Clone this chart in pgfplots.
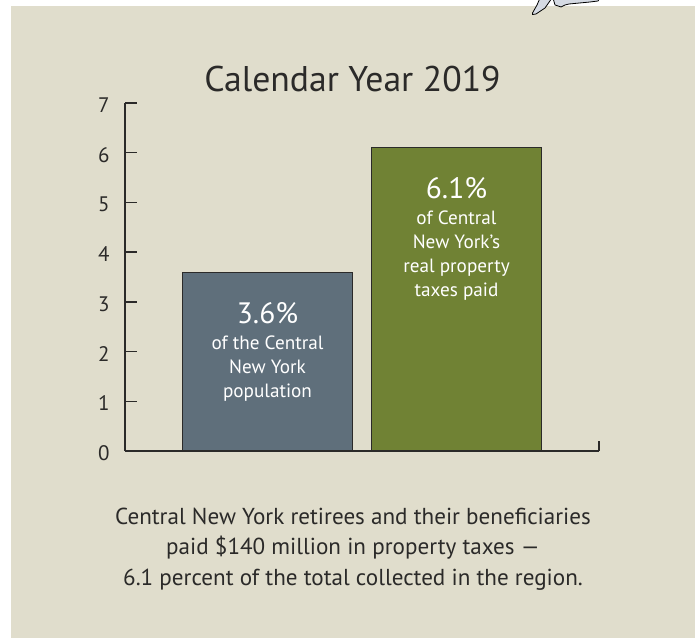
\documentclass[border=0pt]{standalone}
\usepackage{pgfplots}
\pgfplotsset{compat=1.18}
\usepackage{fontspec}
\setmainfont{PT Sans}
\definecolor{panel}{HTML}{E0DDCC}
\definecolor{slate}{HTML}{5F6F7B}
\definecolor{olive}{HTML}{708234}
\definecolor{ink}{HTML}{2B2A29}
\definecolor{mapfill}{HTML}{D5DAE3}
\begin{document}
\begin{tikzpicture}[x=1pt,y=1pt]
\useasboundingbox (0,0) rectangle (700,638);
\fill[white] (0,0) rectangle (700,638);
\fill[panel] (11,0) rectangle (695,632);
% map fragment at top
\begin{scope}
\clip (0,0) rectangle (700,638);
\filldraw[fill=mapfill,draw=black,line width=0.8pt,line join=round] (540,640) -- (537,633) -- (532.5,625) -- (532.5,623.5) -- (536,624) -- (545,630) -- (552,640) -- cycle;
\filldraw[fill=mapfill,draw=black,line width=0.8pt,line join=round] (553,640) -- (555,633) -- (561,631) -- (565,633) -- (569,634) -- (590,636) -- (598,637) -- (600,640) -- cycle;
\end{scope}
\begin{axis}[
  at={(125pt,187pt)},
  anchor=south west,
  width=474pt,height=348pt,scale only axis,
  xmin=-0.754,xmax=1.754,ymin=0,ymax=7,
  axis lines=left,
  axis line style={-,ink,line width=1.6pt},
  ytick={0,...,7},
  xtick=\empty,
  major tick length=12pt,
  tick align=inside,
  every tick/.style={ink,line width=1.4pt},
  tick label style={font=\fontsize{21}{24}\selectfont,text=ink},
  /pgf/number format/assume math mode=true,
  yticklabel style={xshift=-12pt,yshift=-2pt},
  clip=false,
  axis on top,
  ybar,bar shift=0pt,bar width=170.5pt,
]
\addplot[fill=slate,draw=ink,line width=0.8pt] coordinates {(0,3.6)};
\addplot[fill=olive,draw=ink,line width=0.8pt] coordinates {(1,6.1)};
\draw[ink,line width=1.6pt] (axis cs:1.754,0) -- (axis cs:1.754,0.2);
\node[white,font=\fontsize{29.5}{34}\selectfont,anchor=base] at (axis cs:0,2.56) {3.6\%};
\node[white,font=\fontsize{19.2}{24}\selectfont,align=center,anchor=north] at (axis cs:0,2.39) {of the Central\\New York\\population};
\node[white,font=\fontsize{29.5}{34}\selectfont,anchor=base] at (axis cs:1,5.08) {6.1\%};
\node[white,font=\fontsize{19.2}{24}\selectfont,align=center,anchor=north] at (axis cs:1,4.91) {of Central\\New York’s\\real property\\taxes paid};
\end{axis}
\node[ink,font=\fontsize{35.7}{40}\selectfont,anchor=base] at (352.5,546) {Calendar Year 2019};
\node[ink,font=\fontsize{23.1}{30.5}\selectfont,align=center,anchor=north] at (353,133.5) {Central New York retirees and their beneficiaries\\paid \$140 million in property taxes —\\6.1 percent of the total collected in the region.};
\end{tikzpicture}
\end{document}
